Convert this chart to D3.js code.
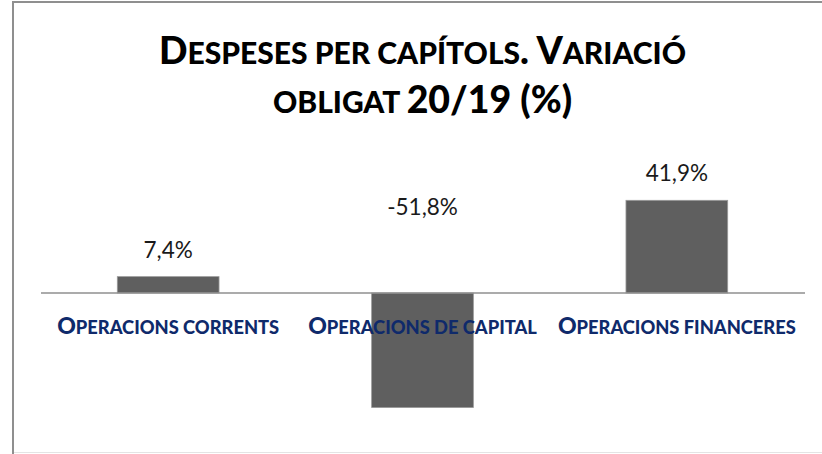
<!DOCTYPE html>
<html><head><meta charset="utf-8">
<script src="https://cdn.jsdelivr.net/npm/d3@7"></script>
<style>body{margin:0;background:#fff} svg{display:block}</style>
</head><body>
<script>
const categories = ["Operacions corrents", "Operacions de capital", "Operacions financeres"];
const values = [7.4, -51.8, 41.9];
const valueLabels = ["7,4%", "-51,8%", "41,9%"];
const titleLines = ["Despeses per capítols. Variació", "obligat 20/19 (%)"];

const W = 822, H = 454;
const svg = d3.select("body").append("svg").attr("width", W).attr("height", H);

// frame
svg.append("line").attr("x1", 13).attr("x2", 13).attr("y1", 2).attr("y2", H).attr("stroke", "#8f8f8f").attr("stroke-width", 2);
svg.append("line").attr("x1", 12).attr("x2", W).attr("y1", 2).attr("y2", 2).attr("stroke", "#8f8f8f").attr("stroke-width", 2);
svg.append("line").attr("x1", 14).attr("x2", W).attr("y1", 452.5).attr("y2", 452.5).attr("stroke", "#e4e4e4").attr("stroke-width", 1);

const x = d3.scaleBand().domain(categories).range([41, 804]).paddingInner(0.6).paddingOuter(0.3);
const y = d3.scaleLinear().domain([-55, 45]).range([293 + 55 * 2.212, 293 - 45 * 2.212]);

function smallCaps(sel, str, big, small) {
  const runs = [];
  for (const ch of str) {
    let s = ch !== ch.toUpperCase();
    if (/\s/.test(ch)) s = runs.length ? runs[runs.length - 1].small : false;
    if (runs.length && runs[runs.length - 1].small === s) runs[runs.length - 1].t += ch;
    else runs.push({ t: ch, small: s });
  }
  runs.forEach(r => {
    sel.append("tspan").text(r.t)
      .style("font-size", (r.small ? small : big) + "px")
      .style("text-transform", r.small ? "uppercase" : "none");
  });
}

// title
const titleFont = "Lato, 'Open Sans', sans-serif";
titleLines.forEach((line, i) => {
  const t = svg.append("text").attr("x", 422.5).attr("y", 64 + i * 49)
    .attr("text-anchor", "middle").attr("font-family", titleFont).attr("font-weight", 900).attr("fill", "#000");
  smallCaps(t, line, 37.5, 30);
});

// bars
svg.selectAll("rect.bar").data(values).enter().append("rect").attr("class", "bar")
  .attr("x", (d, i) => x(categories[i]))
  .attr("width", x.bandwidth())
  .attr("y", d => y(Math.max(0, d)))
  .attr("height", d => Math.abs(y(d) - y(0)))
  .attr("fill", "#5f5f5f").attr("stroke", "#9a9a9a").attr("stroke-width", 0.8);

// axis line
svg.append("line").attr("x1", x.range()[0]).attr("x2", x.range()[1] + 1).attr("y1", y(0)).attr("y2", y(0))
  .attr("stroke", "#8f8f8f").attr("stroke-width", 1.5);

// value labels
svg.selectAll("text.val").data(values).enter().append("text").attr("class", "val")
  .attr("x", (d, i) => x(categories[i]) + x.bandwidth() / 2)
  .attr("y", d => d >= 0 ? y(d) - 19 : y(0) - 78)
  .attr("text-anchor", "middle").attr("font-family", "Lato, 'Open Sans', sans-serif")
  .attr("font-size", 22.5).attr("fill", "#1a1a1a")
  .text((d, i) => valueLabels[i]);

// category labels
categories.forEach(c => {
  const t = svg.append("text").attr("x", x(c) + x.bandwidth() / 2).attr("y", 334)
    .attr("text-anchor", "middle").attr("font-family", "Lato, 'Open Sans', sans-serif")
    .attr("font-weight", 900).attr("fill", "#0f2a6b");
  smallCaps(t, c, 23, 18.3);
});
</script>
</body></html>
